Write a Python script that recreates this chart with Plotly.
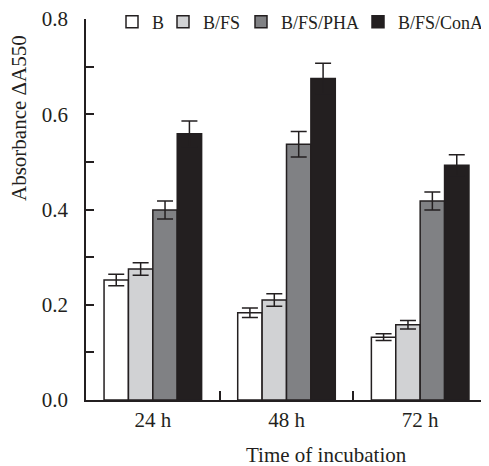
import plotly.graph_objects as go

categories = ["24 h", "48 h", "72 h"]
series_names = ["B", "B/FS", "B/FS/PHA", "B/FS/ConA"]
values_B = [0.252, 0.183, 0.132]
values_BFS = [0.275, 0.210, 0.158]
values_PHA = [0.399, 0.537, 0.418]
values_ConA = [0.559, 0.675, 0.493]
err_B = [0.012, 0.010, 0.007]
err_BFS = [0.013, 0.013, 0.009]
err_PHA = [0.019, 0.027, 0.019]
err_ConA = [0.027, 0.032, 0.022]

colors = ["#ffffff", "#d1d2d4", "#808184", "#231f20"]
ink = "#231f20"
font_family = "Liberation Serif"

# page has an 8px body margin, so the figure is drawn 8px in from the top-left
OFF = 8
W, H = 489 - OFF, 466 - OFF
PL, PR, PT, PB = 86 - OFF, 487 - OFF, 19 - OFF, 400 - OFF  # plot area in figure px
legend_text_x = [152, 203, 281, 401]  # page px, left of legend text

fig = go.Figure()
legend_ids = ["legend", "legend2", "legend3", "legend4"]
for name, vals, errs, col, lid in zip(series_names,
                                      [values_B, values_BFS, values_PHA, values_ConA],
                                      [err_B, err_BFS, err_PHA, err_ConA], colors, legend_ids):
    fig.add_trace(go.Bar(
        x=categories, y=vals, name=name, legend=lid,
        marker=dict(color=col, line=dict(color=ink, width=1.5)),
        error_y=dict(type="data", array=errs, visible=True, color=ink,
                     thickness=1.5, width=8),
    ))

legend_layout = {}
for i, (lid, tx) in enumerate(zip(legend_ids, legend_text_x)):
    d = dict(
        xref="container", yref="container",
        y=1 - (22 - OFF) / H, yanchor="middle",
        font=dict(size=18, family=font_family, color=ink),
        bgcolor="rgba(0,0,0,0)", borderwidth=0, itemwidth=30,
        orientation="v",
    )
    if i < 3:
        d.update(x=(tx - OFF - 40) / W, xanchor="left")
    else:
        d.update(x=1.0, xanchor="right")
    legend_layout[lid] = d

pw = PR - PL
ph = PB - PT

fig.update_layout(
    width=W, height=H,
    margin=dict(l=PL, r=W - PR, t=PT, b=H - PB, autoexpand=False),
    paper_bgcolor="white", plot_bgcolor="white",
    barmode="group", bargap=0.27, bargroupgap=0,
    font=dict(family=font_family, color=ink, size=21),
    showlegend=True,
    xaxis=dict(
        showline=True, linecolor=ink, linewidth=1.5,
        ticks="inside", tickson="boundaries", ticklen=9, tickwidth=1.5, tickcolor=ink,
        tickfont=dict(size=21), showgrid=False, automargin=False,
    ),
    yaxis=dict(
        range=[0, 0.8], dtick=0.2, tickformat=".1f",
        showline=True, linecolor=ink, linewidth=1.5,
        ticks="inside", ticklen=8, tickwidth=1.5, tickcolor=ink,
        tickfont=dict(size=21), showgrid=False, zeroline=False, automargin=False,
        ticklabelstandoff=12, ticklabeloverflow="allow",
        minor=dict(dtick=0.1, ticks="inside", ticklen=8, tickwidth=1.5, tickcolor=ink, showgrid=False),
    ),
    annotations=[
        dict(text="Absorbance ΔA550", textangle=-90, xref="paper", yref="paper",
             x=(19 - OFF - PL) / pw, y=(PB - (118 - OFF)) / ph, xanchor="center", yanchor="middle",
             showarrow=False, font=dict(size=21, family=font_family, color=ink)),
        dict(text="Time of incubation", xref="paper", yref="paper",
             x=(326.5 - OFF - PL) / pw, y=-((455 - OFF) - PB) / ph, xanchor="center", yanchor="middle",
             showarrow=False, font=dict(size=21, family=font_family, color=ink)),
    ],
    **legend_layout,
)

fig.write_html("out.html")
